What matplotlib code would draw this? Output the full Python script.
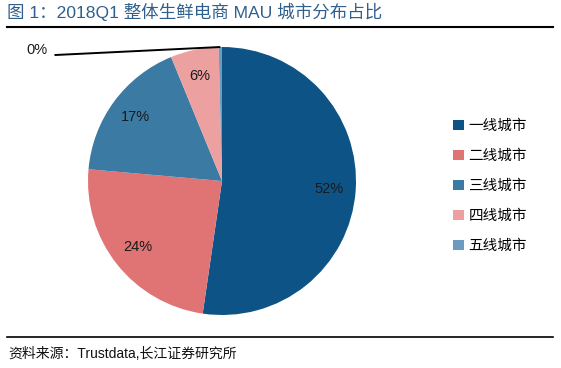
import matplotlib.pyplot as plt
import numpy as np

plt.rcParams['font.family'] = ['Liberation Sans', 'Noto Sans CJK SC', 'DejaVu Sans']

# 数据
cities = ['一线城市', '二线城市', '三线城市', '四线城市', '五线城市']
shares = [52.3, 24.1, 17.4, 5.8, 0.4]
colors = ['#0E5385', '#E07373', '#3A7AA3', '#ECA0A0', '#6B9CC0']

title = '图 1：2018Q1 整体生鲜电商 MAU 城市分布占比'
source = '资料来源：Trustdata,长江证券研究所'

W, H = 561, 368
fig = plt.figure(figsize=(W / 100, H / 100), dpi=100)

# 饼图
ax = fig.add_axes([88 / W, 1 - 315 / H, 268 / W, 268 / H])
wedges, _ = ax.pie(shares, colors=colors, startangle=90, counterclock=False,
                   radius=1, wedgeprops=dict(linewidth=0))
ax.set_xlim(-1, 1)
ax.set_ylim(-1, 1)
ax.set_aspect('equal')
ax.axis('off')

# 百分比标签
for w, v in zip(wedges[:4], shares[:4]):
    ang = np.deg2rad((w.theta1 + w.theta2) / 2)
    r = 0.8
    ax.text(r * np.cos(ang), r * np.sin(ang), '%d%%' % round(v),
            ha='center', va='center', fontsize=10.5, color='#1a1a1a')

# 0% 引线
w5 = wedges[4]
ang = np.deg2rad((w5.theta1 + w5.theta2) / 2)
ax.plot([np.cos(ang), -1.25], [np.sin(ang), 0.94], color='black', lw=1.4,
        clip_on=False, solid_capstyle='butt')
ax.text(-1.305, 0.975, '%d%%' % round(shares[4]), ha='right', va='center',
        fontsize=10.5, color='#1a1a1a')

# 图例
fig.legend(wedges, cities, loc='upper left', bbox_to_anchor=(453 / W, 1 - 119 / H),
           frameon=False, fontsize=10.5, handlelength=0.75, handleheight=0.75,
           handletextpad=0.3, labelspacing=1.1, borderpad=0, borderaxespad=0)

# 标题和横线
fig.text(7 / W, 1 - 12 / H, title, fontsize=12.6, color='#2F5F8C',
         ha='left', va='center')
fig.add_artist(plt.Line2D([7 / W, 553 / W], [1 - 27 / H, 1 - 27 / H],
                          color='black', lw=1.5))
fig.add_artist(plt.Line2D([7 / W, 553 / W], [1 - 337 / H, 1 - 337 / H],
                          color='black', lw=1.2))
fig.text(8 / W, 1 - 354 / H, source, fontsize=10, color='#111111',
         ha='left', va='center')

plt.savefig('out.png', dpi=100)
